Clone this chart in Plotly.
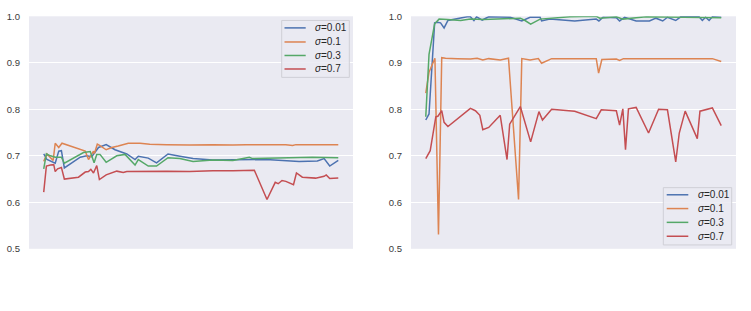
import plotly.graph_objects as go

# ---------------- data: left panel ----------------
L_x_001 = [0, 1.1, 3.9, 5.1, 6.0, 7.0, 12.4, 14.6, 16.3, 18.6, 21.2, 24.2, 28.2, 31.0, 32.1, 35.5, 38.3, 42.2,
           46.2, 50.7, 57.4, 64.2, 70.9, 75.5, 81.1, 86.7, 92.9, 95.2, 97.1, 100]
L_y_001 = [0.704, 0.692, 0.684, 0.710, 0.711, 0.674, 0.697, 0.700, 0.698, 0.718, 0.724, 0.713, 0.704, 0.692,
           0.699, 0.695, 0.685, 0.704, 0.699, 0.694, 0.691, 0.691, 0.692, 0.692, 0.690, 0.688, 0.689, 0.694,
           0.678, 0.690]

L_x_01 = [0, 1.1, 3.2, 3.9, 5.1, 6.2, 14.1, 15.2, 16.9, 17.2, 18.2, 19.1, 21.2, 23.1, 25.3, 27.6, 28.7, 32.7,
          36.0, 41.7, 49.5, 57.4, 64.2, 68.7, 82.2, 84.5, 85.6, 100]
L_y_01 = [0.688, 0.704, 0.690, 0.727, 0.718, 0.727, 0.710, 0.692, 0.710, 0.705, 0.725, 0.722, 0.713, 0.718,
          0.721, 0.724, 0.727, 0.727, 0.725, 0.724, 0.723, 0.724, 0.723, 0.724, 0.724, 0.722, 0.724, 0.724]

L_x_03 = [0, 0.9, 2.3, 3.9, 6.0, 7.0, 13.5, 15.8, 17.1, 18.0, 19.1, 21.2, 24.8, 27.6, 31.0, 32.1, 35.5, 38.3,
          42.2, 46.2, 50.7, 57.4, 64.2, 69.8, 70.9, 81.1, 91.2, 100]
L_y_03 = [0.672, 0.704, 0.700, 0.697, 0.697, 0.684, 0.707, 0.709, 0.685, 0.703, 0.703, 0.686, 0.700, 0.703,
          0.680, 0.692, 0.678, 0.678, 0.696, 0.694, 0.688, 0.691, 0.690, 0.697, 0.694, 0.696, 0.697, 0.696]

L_x_07 = [0, 0.9, 2.3, 3.4, 3.9, 4.7, 6.0, 7.0, 11.8, 14.1, 15.2, 16.0, 16.9, 18.0, 18.9, 21.2, 24.8, 27.0,
          28.2, 36.0, 41.7, 49.5, 57.4, 64.2, 71.5, 75.8, 78.6, 79.6, 80.9, 82.2, 84.8, 85.8, 87.8, 92.3,
          95.2, 95.9, 97.1, 100]
L_y_07 = [0.622, 0.678, 0.680, 0.681, 0.666, 0.672, 0.675, 0.650, 0.654, 0.665, 0.666, 0.671, 0.663, 0.679,
          0.649, 0.659, 0.667, 0.664, 0.666, 0.667, 0.667, 0.666, 0.668, 0.668, 0.669, 0.606, 0.643, 0.640,
          0.647, 0.645, 0.638, 0.663, 0.654, 0.652, 0.656, 0.659, 0.651, 0.652]

# ---------------- data: right panel ----------------
R_x_001 = [0, 1.1, 3.0, 3.9, 5.0, 6.2, 7.5, 11.2, 14.0, 15.1, 16.3, 17.2, 19.1, 21.3, 28.6, 32.5, 35.3, 38.7,
           39.2, 42.0, 50.4, 57.7, 58.6, 60.0, 64.5, 65.6, 67.3, 71.2, 75.7, 77.9, 80.2, 81.8, 84.6, 86.3,
           92.5, 93.6, 94.7, 95.9, 97.0, 100]
R_y_001 = [0.777, 0.790, 0.986, 0.987, 0.986, 0.975, 0.991, 0.996, 0.999, 0.999, 0.991, 0.999, 0.992, 0.999,
           0.998, 0.990, 0.998, 0.998, 0.990, 0.994, 0.990, 0.994, 0.990, 0.998, 0.997, 0.990, 0.998, 0.990,
           0.990, 0.996, 0.990, 0.998, 0.991, 0.999, 0.999, 0.991, 0.998, 0.991, 0.999, 0.998]

R_x_01 = [0, 1.1, 3.1, 4.3, 5.4, 6.7, 10.7, 15.1, 17.4, 19.3, 21.3, 25.2, 28.0, 31.4, 32.5, 35.3, 38.1, 39.2,
          42.6, 57.7, 58.5, 59.6, 64.5, 65.6, 66.9, 82.4, 97.0, 100]
R_y_01 = [0.835, 0.880, 0.910, 0.531, 0.911, 0.910, 0.909, 0.908, 0.910, 0.906, 0.909, 0.906, 0.910, 0.606,
          0.909, 0.906, 0.909, 0.899, 0.909, 0.909, 0.878, 0.907, 0.908, 0.905, 0.909, 0.909, 0.909, 0.903]

R_x_03 = [0, 1.1, 3.0, 4.5, 7.3, 11.8, 15.1, 19.6, 24.1, 28.6, 32.0, 33.6, 35.5, 38.7, 44.3, 48.8, 57.7, 58.9,
          64.5, 66.7, 71.2, 74.6, 100]
R_y_03 = [0.784, 0.918, 0.984, 0.994, 0.993, 0.991, 0.994, 0.993, 0.994, 0.996, 0.996, 0.991, 0.983, 0.994,
          0.996, 0.999, 1.000, 0.996, 0.999, 0.994, 0.997, 0.999, 0.997]

R_x_07 = [0, 1.5, 3.4, 4.1, 5.4, 6.2, 7.5, 15.1, 16.8, 18.3, 19.3, 21.3, 25.2, 27.5, 28.4, 32.0, 35.5, 38.3,
          39.5, 42.6, 50.4, 57.7, 59.4, 64.5, 65.6, 66.7, 67.6, 68.6, 71.2, 75.4, 78.8, 81.8, 84.6, 85.8,
          87.8, 91.9, 92.8, 97.0, 100]
R_y_07 = [0.694, 0.711, 0.784, 0.785, 0.797, 0.772, 0.763, 0.802, 0.797, 0.787, 0.756, 0.761, 0.787, 0.692,
          0.768, 0.806, 0.730, 0.795, 0.777, 0.800, 0.796, 0.780, 0.799, 0.797, 0.766, 0.801, 0.713, 0.801,
          0.804, 0.749, 0.800, 0.799, 0.687, 0.749, 0.796, 0.737, 0.796, 0.803, 0.765]

NAMES = ["<i>σ</i>=0.01", "<i>σ</i>=0.1", "<i>σ</i>=0.3", "<i>σ</i>=0.7"]
COLORS = ["#4C72B0", "#DD8452", "#55A868", "#C44E52"]
Y_TICKS = [0.5, 0.6, 0.7, 0.8, 0.9, 1.0]

left = [(L_x_001, L_y_001), (L_x_01, L_y_01), (L_x_03, L_y_03), (L_x_07, L_y_07)]
right = [(R_x_001, R_y_001), (R_x_01, R_y_01), (R_x_03, R_y_03), (R_x_07, R_y_07)]

fig = go.Figure()
for (xs, ys), name, col in zip(left, NAMES, COLORS):
    fig.add_trace(go.Scatter(x=xs, y=ys, mode="lines", name=name, line=dict(color=col, width=1.5),
                             xaxis="x", yaxis="y", showlegend=False))
for (xs, ys), name, col in zip(right, NAMES, COLORS):
    fig.add_trace(go.Scatter(x=xs, y=ys, mode="lines", name=name, line=dict(color=col, width=1.5),
                             xaxis="x2", yaxis="y2", showlegend=False))

W, H = 751, 311
FONT = "Liberation Sans, Arial, sans-serif"


def px(x):
    return x / W


def py(y):
    return 1 - y / H


y_dom = [py(251.7), py(10.7)]
xaxis_common = dict(range=[-5, 105], showgrid=False, zeroline=False, showticklabels=False, showline=False,
                    ticks="", fixedrange=True)
yaxis_common = dict(range=[0.5, 1.0], tickvals=Y_TICKS, tickformat=".1f", showgrid=True, gridcolor="white",
                    gridwidth=1, zeroline=False, showline=False, ticks="", ticklabelstandoff=8,
                    tickfont=dict(family=FONT, size=9.5, color="#3a3a3a"))

# --- compact matplotlib-style legends (box, line samples, labels) ---
shapes, annotations = [], []


def add_legend(box, line_x0, line_x1, text_x, row_ys):
    bx0, by0, bx1, by1 = box
    shapes.append(dict(type="rect", xref="paper", yref="paper", x0=px(bx0), x1=px(bx1), y0=py(by1), y1=py(by0),
                       fillcolor="rgba(234,234,242,0.85)", line=dict(color="#cfcfd6", width=1), layer="above"))
    for name, col, ry in zip(NAMES, COLORS, row_ys):
        shapes.append(dict(type="line", xref="paper", yref="paper", x0=px(line_x0), x1=px(line_x1),
                           y0=py(ry), y1=py(ry), line=dict(color=col, width=1.5), layer="above"))
        annotations.append(dict(xref="paper", yref="paper", x=px(text_x), y=py(ry), text=name,
                                showarrow=False, xanchor="left", yanchor="middle",
                                font=dict(family=FONT, size=10, color="#262626")))


add_legend((281.7, 15, 349.3, 74), 284.5, 305.7, 312.5, [22.7, 37.3, 51.3, 65.3])
add_legend((663.3, 188.3, 731.7, 247.7), 666.7, 688.3, 695.5, [195.7, 210.0, 224.3, 238.7])

fig.update_layout(
    width=W, height=H,
    margin=dict(l=0, r=0, t=0, b=0),
    paper_bgcolor="white", plot_bgcolor="#EAEAF2",
    showlegend=False,
    xaxis=dict(domain=[px(29), px(353)], anchor="y", **xaxis_common),
    yaxis=dict(domain=y_dom, anchor="x", **yaxis_common),
    xaxis2=dict(domain=[px(411), px(736)], anchor="y2", **xaxis_common),
    yaxis2=dict(domain=y_dom, anchor="x2", **yaxis_common),
    shapes=shapes,
    annotations=annotations,
)

fig.write_html("out.html")
